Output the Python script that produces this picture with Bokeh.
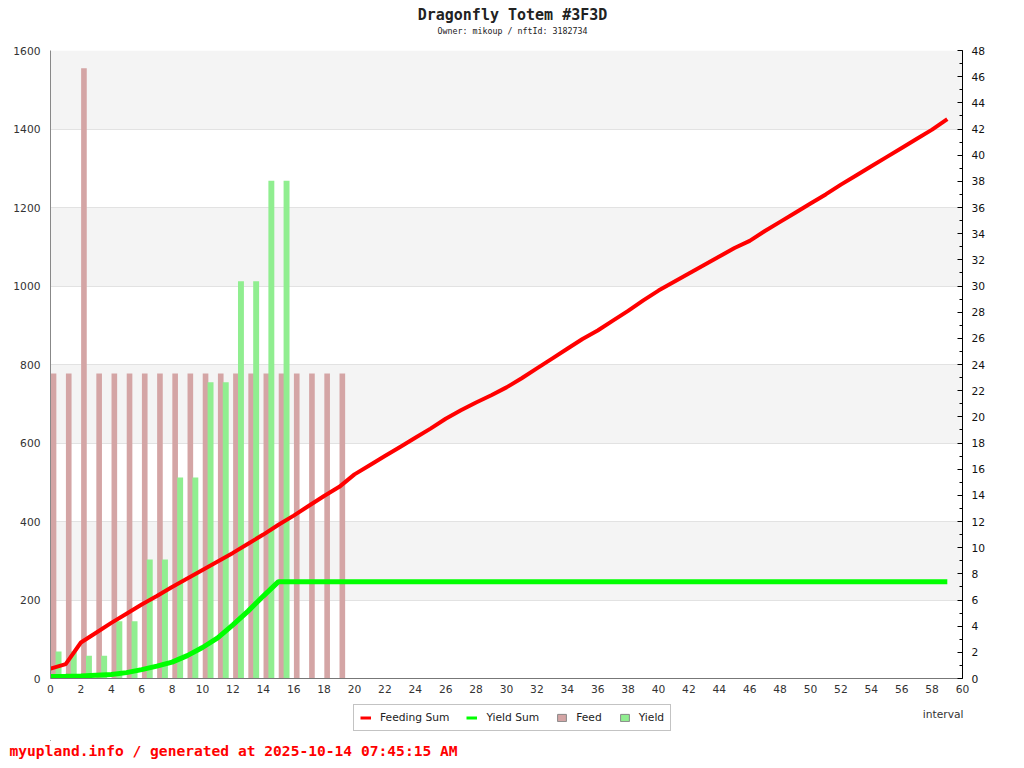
from bokeh.plotting import figure
from bokeh.layouts import column
from bokeh.models import (Range1d, LinearAxis, SingleIntervalTicker, Legend,
                          LegendItem, Label, ColumnDataSource)
from bokeh.transform import dodge
from bokeh.embed import file_html
from bokeh.resources import INLINE

# ---------------- data ----------------
bar_intervals = [0, 1, 2, 3, 4, 5, 6, 7, 8, 9, 10, 11, 12, 13, 14, 15, 16, 17, 18, 19]
feed = [777, 777, 1555, 777, 777, 777, 777, 777, 777, 777,
        777, 777, 777, 777, 777, 777, 777, 777, 777, 777]

yield_intervals = [0, 1, 2, 3, 4, 5, 6, 7, 8, 9, 10, 11, 12, 13, 14, 15]
yield_vals = [69, 69, 58, 58, 146, 146, 303, 303, 512, 512,
              755, 755, 1012, 1012, 1268, 1268]

sum_intervals = list(range(60))
feeding_sum = [0.75, 1.1, 2.75, 3.5, 4.25, 4.95, 5.65, 6.3, 7.0, 7.65,
               8.3, 8.95, 9.6, 10.3, 11.0, 11.75, 12.45, 13.2, 13.95, 14.65,
               15.6, 16.3, 17.0, 17.7, 18.4, 19.1, 19.85, 20.5, 21.1, 21.65,
               22.25, 22.95, 23.7, 24.45, 25.2, 25.95, 26.6, 27.35, 28.1, 28.9,
               29.65, 30.3, 30.95, 31.6, 32.25, 32.9, 33.45, 34.2, 34.9, 35.6,
               36.3, 37.0, 37.75, 38.45, 39.15, 39.85, 40.55, 41.25, 41.95, 42.75]
yield_sum = [0.15, 0.17, 0.2, 0.25, 0.3, 0.45, 0.68, 0.95, 1.25, 1.75,
             2.37, 3.1, 4.1, 5.15, 6.3, 7.4, 7.4, 7.4, 7.4, 7.4,
             7.4, 7.4, 7.4, 7.4, 7.4, 7.4, 7.4, 7.4, 7.4, 7.4,
             7.4, 7.4, 7.4, 7.4, 7.4, 7.4, 7.4, 7.4, 7.4, 7.4,
             7.4, 7.4, 7.4, 7.4, 7.4, 7.4, 7.4, 7.4, 7.4, 7.4,
             7.4, 7.4, 7.4, 7.4, 7.4, 7.4, 7.4, 7.4, 7.4, 7.4]

x_ticks_interval = 2
left_ticks_interval = 200
right_ticks_interval = 2

title_text = "Dragonfly Totem #3F3D"
subtitle_text = "Owner: mikoup / nftId: 3182734"
footer_text = "myupland.info / generated at 2025-10-14 07:45:15 AM"
x_label = "interval"

feed_src = ColumnDataSource(dict(interval=bar_intervals, feed=feed))
yield_src = ColumnDataSource(dict(interval=yield_intervals, yld=yield_vals))
sum_src = ColumnDataSource(dict(interval=sum_intervals, fsum=feeding_sum, ysum=yield_sum))

W = 1008
LX = -50  # strip figures get their frame aligned with the chart frame (left edge at 50px)


def blank(height, bottom=0):
    f = figure(frame_width=W, frame_height=height, x_range=Range1d(0, W),
               y_range=Range1d(0, height), x_axis_type=None, y_axis_type=None,
               output_backend="svg", toolbar_location=None,
               min_border_left=0, min_border_right=0, min_border_top=0,
               min_border_bottom=bottom, background_fill_color="white",
               border_fill_color="white")
    f.outline_line_color = None
    f.grid.visible = False
    return f


# ---------------- header ----------------
top = blank(40)
top.add_layout(Label(x=512 + LX, y=26, x_units="screen", y_units="screen", text=title_text,
                     text_align="center", text_baseline="alphabetic",
                     text_font="DejaVu Sans Mono", text_font_size="15px",
                     text_font_style="bold", text_color="#222222"))
top.add_layout(Label(x=512 + LX, y=9.5, x_units="screen", y_units="screen", text=subtitle_text,
                     text_align="center", text_baseline="alphabetic",
                     text_font="DejaVu Sans Mono", text_font_size="8.3px",
                     text_color="#222222"))

# ---------------- main chart ----------------
p = figure(frame_width=912, frame_height=628,
           x_range=Range1d(0, 60), y_range=Range1d(0, 1600),
           output_backend="svg", toolbar_location=None,
           min_border_left=50, min_border_right=46,
           min_border_top=10, min_border_bottom=22,
           background_fill_color="white", border_fill_color="white")
p.outline_line_color = None
p.extra_y_ranges = {"sum": Range1d(0, 48)}

p.xgrid.visible = False
p.ygrid.grid_line_color = "#e2e2e2"
p.ygrid.band_fill_color = "#f4f4f4"
p.ygrid.band_fill_alpha = 1.0

xa = p.xaxis[0]
xa.ticker = SingleIntervalTicker(interval=x_ticks_interval, num_minor_ticks=0)
xa.axis_line_color = "#777777"
xa.major_tick_line_color = None
xa.minor_tick_line_color = None
xa.major_tick_out = 0
xa.major_label_standoff = 6
xa.major_label_text_font = "DejaVu Sans"
xa.major_label_text_font_size = "10.7px"
xa.major_label_text_color = "#333333"

ya = p.yaxis[0]
ya.ticker = SingleIntervalTicker(interval=left_ticks_interval, num_minor_ticks=0)
ya.axis_line_color = "#888888"
ya.major_tick_line_color = None
ya.minor_tick_line_color = None
ya.major_tick_out = 0
ya.major_label_standoff = 10
ya.major_label_text_font = "DejaVu Sans"
ya.major_label_text_font_size = "10.7px"
ya.major_label_text_color = "#333333"

ra = LinearAxis(y_range_name="sum",
                ticker=SingleIntervalTicker(interval=right_ticks_interval, num_minor_ticks=2))
ra.axis_line_color = "#000000"
ra.major_tick_in = 5
ra.major_tick_out = 0
ra.minor_tick_in = 3
ra.minor_tick_out = 0
ra.major_tick_line_color = "#000000"
ra.minor_tick_line_color = "#000000"
ra.major_label_standoff = 9
ra.major_label_text_font = "DejaVu Sans"
ra.major_label_text_font_size = "10.7px"
ra.major_label_text_color = "#111111"
p.add_layout(ra, "right")

p.vbar(x=dodge("interval", 0.2), top="feed", width=0.37, source=feed_src,
       fill_color="#d4a5a5", line_color=None)
p.vbar(x=dodge("interval", 0.53), top="yld", width=0.39, source=yield_src,
       fill_color="#90ee90", line_color=None)

p.line(x="interval", y="fsum", source=sum_src, y_range_name="sum",
       line_color="#ff0000", line_width=4)
p.line(x="interval", y="ysum", source=sum_src, y_range_name="sum",
       line_color="#00ff00", line_width=5)

# ---------------- footer strip: axis title, legend, credit ----------------
bot = blank(40, bottom=20)
# off-screen swatch renderers used only by the legend
sw = ColumnDataSource(dict(x=[-400, -300], y=[-400, -400]))
lg_f = bot.line("x", "y", source=sw, line_color="#ff0000", line_width=3)
lg_y = bot.line("x", "y", source=sw, line_color="#00ff00", line_width=3)
lg_fb = bot.vbar(x="x", top="y", source=sw, width=1, fill_color="#d4a5a5",
                 line_color="#888888")
lg_yb = bot.vbar(x="x", top="y", source=sw, width=1, fill_color="#90ee90",
                 line_color="#888888")
legend = Legend(items=[LegendItem(label="Feeding Sum", renderers=[lg_f]),
                       LegendItem(label="Yield Sum", renderers=[lg_y]),
                       LegendItem(label="Feed", renderers=[lg_fb]),
                       LegendItem(label="Yield", renderers=[lg_yb])],
                location=(353, 9), orientation="horizontal",
                glyph_width=11, glyph_height=9, label_standoff=9, spacing=17,
                padding=6, margin=0, border_line_color="#888888",
                label_text_font="DejaVu Sans", label_text_font_size="10.7px",
                label_text_color="#222222",
                background_fill_color="white", background_fill_alpha=1.0)
bot.add_layout(legend, "center")
bot.add_layout(Label(x=963 + LX, y=26, x_units="screen", y_units="screen", text=x_label,
                     text_align="right", text_baseline="middle",
                     text_font="DejaVu Sans", text_font_size="10.7px",
                     text_color="#333333"))
# credit line lives in the side panel below the strip frame (not clipped there)
bot.add_layout(Label(x=9 + LX, y=7, x_units="screen", y_units="screen", text=footer_text,
                     text_align="left", text_baseline="alphabetic",
                     text_font="DejaVu Sans Mono", text_font_size="14.6px",
                     text_font_style="bold", text_color="#ff0000"), "below")

layout = column(top, p, bot, spacing=0)
open("out.html", "w").write(file_html(layout, INLINE))
